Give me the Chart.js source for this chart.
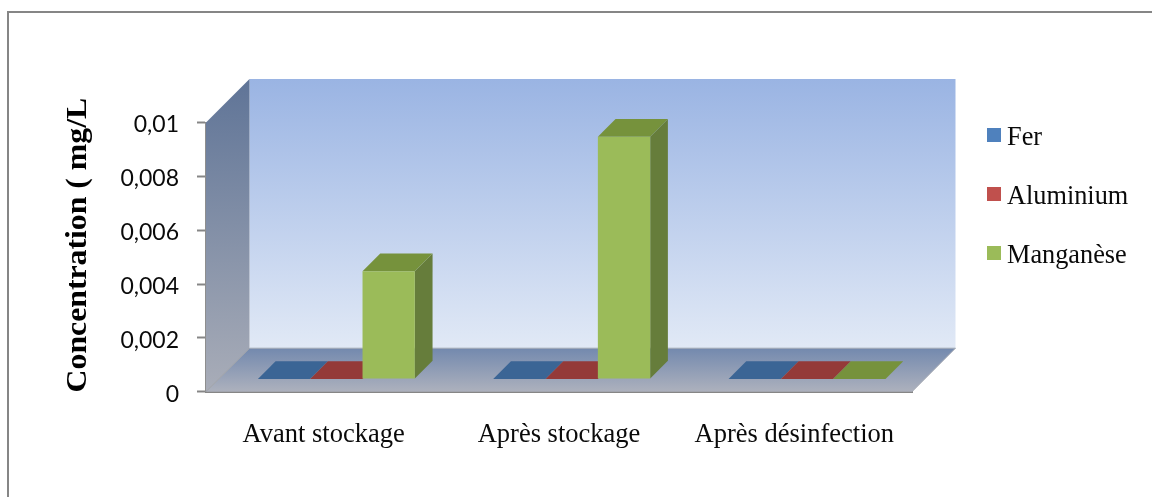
<!DOCTYPE html>
<html lang="fr">
<head>
  <meta charset="UTF-8">
  <title>Concentration</title>
  <script src="https://cdn.jsdelivr.net/npm/chart.js"></script>
  <style>
    html, body {margin:0;padding:0;background:#fff}
    #wrap {position:relative;width:1152px;height:497px;overflow:hidden}
    #cadre {position:absolute;left:7px;top:11px;width:1160px;height:520px;border:2px solid #868686;box-sizing:border-box}
    canvas {position:absolute;left:0;top:0}
    #legende {position:absolute;left:987px;top:0;font:26.3px "Liberation Serif",serif;color:#0a0a0a}
    #legende div {position:absolute;left:0;white-space:nowrap;height:30px;line-height:30px}
    #legende i {position:absolute;left:0;top:8px;width:14px;height:14px}
    #legende span {position:absolute;left:20px;top:2px}
  </style>
</head>
<body>
<div id="wrap">
  <div id="cadre"></div>
  <canvas id="barChart" width="1152" height="497"></canvas>
  <div id="legende"></div>
</div>
<script>
const categories = ['Avant stockage', 'Après stockage', 'Après désinfection'];
const fer = [0, 0, 0];
const aluminium = [0, 0, 0];
const manganese = [0.004, 0.009, 0];
const yTicks = [0, 0.002, 0.004, 0.006, 0.008, 0.01];
const yTitle = 'Concentration ( mg/L';

// Profondeur de la vue 3D, en pixels
const DEPTH = 43.5;
const BAR_OFFSET = 12.7;
const BAR_DEPTH = 17.7;

function poly(ctx, pts, fill) {
  ctx.beginPath();
  pts.forEach((p, i) => i ? ctx.lineTo(p[0], p[1]) : ctx.moveTo(p[0], p[1]));
  ctx.closePath();
  ctx.fillStyle = fill;
  ctx.fill();
}

function seam(ctx, x0, y0, x1, y1, color) {
  ctx.beginPath();
  ctx.moveTo(x0, y0);
  ctx.lineTo(x1, y1);
  ctx.strokeStyle = color;
  ctx.lineWidth = 1;
  ctx.stroke();
}

function vGrad(ctx, y0, y1, c0, c1) {
  const g = ctx.createLinearGradient(0, y0, 0, y1);
  g.addColorStop(0, c0);
  g.addColorStop(1, c1);
  return g;
}

// Parois, sol et faces des barres, puis décalage des barres dans la profondeur
const scene3d = {
  id: 'scene3d',
  beforeDatasetsDraw(chart) {
    const { ctx, chartArea: a } = chart;
    const d = DEPTH;
    ctx.save();
    // paroi du fond
    poly(ctx, [[a.left + d, a.top - d], [a.right + d, a.top - d], [a.right + d, a.bottom - d], [a.left + d, a.bottom - d]],
      vGrad(ctx, a.top - d, a.bottom - d, '#9ab4e3', '#e1e9f6'));
    // paroi gauche
    poly(ctx, [[a.left, a.top], [a.left + d, a.top - d], [a.left + d, a.bottom - d], [a.left, a.bottom]],
      vGrad(ctx, a.top - d, a.bottom, '#5f7497', '#a9adb8'));
    // sol
    poly(ctx, [[a.left, a.bottom], [a.left + d, a.bottom - d], [a.right + d, a.bottom - d], [a.right, a.bottom]],
      vGrad(ctx, a.bottom - d, a.bottom, '#7389ae', '#adb1bd'));
    seam(ctx, a.left, a.bottom, a.left + d, a.bottom - d, '#9a9da3');
    seam(ctx, a.left + d, a.bottom - d, a.right + d, a.bottom - d, '#a3aab6');
    seam(ctx, a.right, a.bottom, a.right + d, a.bottom - d, '#a9adb6');
    ctx.restore();

    ctx.save();
    ctx.translate(BAR_OFFSET, -BAR_OFFSET);
    const dd = BAR_DEPTH;
    chart.data.datasets.forEach((ds, i) => {
      chart.getDatasetMeta(i).data.forEach(b => {
        const l = b.x - b.width / 2, r = b.x + b.width / 2;
        poly(ctx, [[r, b.y], [r + dd, b.y - dd], [r + dd, b.base - dd], [r, b.base]], ds.sideColor);
        poly(ctx, [[l, b.y], [l + dd, b.y - dd], [r + dd, b.y - dd], [r, b.y]], ds.topColor);
      });
    });
  },
  afterDatasetsDraw(chart) {
    chart.ctx.restore();
    const { ctx, chartArea: a } = chart;
    ctx.save();
    ctx.translate(79, (a.top + a.bottom) / 2 - 12);
    ctx.rotate(-Math.PI / 2);
    ctx.scale(1.095, 1);
    ctx.font = 'bold 29px "Liberation Serif", serif';
    ctx.fillStyle = '#000';
    ctx.textAlign = 'center';
    ctx.textBaseline = 'middle';
    ctx.fillText(yTitle, 0, 0);
    ctx.restore();
  }
};

const chart = new Chart(document.getElementById('barChart').getContext('2d'), {
  type: 'bar',
  data: {
    labels: categories,
    datasets: [
      { label: 'Fer', data: fer, backgroundColor: '#4f81bd', sideColor: '#3a6091', topColor: '#3b6595' },
      { label: 'Aluminium', data: aluminium, backgroundColor: '#c0504d', sideColor: '#8c3a38', topColor: '#943a38' },
      { label: 'Manganèse', data: manganese, backgroundColor: '#9bbb59', sideColor: '#667d3b', topColor: '#76923c' }
    ]
  },
  plugins: [scene3d],
  options: {
    responsive: false,
    animation: false,
    layout: { padding: { left: 0, right: 240, top: 122.5, bottom: 0 } },
    categoryPercentage: 0.667,
    barPercentage: 1,
    plugins: { legend: { display: false }, tooltip: { enabled: false } },
    scales: {
      x: {
        grid: { display: false, drawTicks: false },
        border: { display: true, color: '#868686', width: 2 },
        ticks: { color: '#0a0a0a', padding: 27, font: { family: '"Liberation Serif", serif', size: 26.5 }, maxRotation: 0 },
        afterFit(s) { s.height = 497 - 391.7; }
      },
      y: {
        min: 0,
        max: 0.01,
        afterBuildTicks(s) { s.ticks = yTicks.map(v => ({ value: v })); },
        afterFit(s) { s.width = 206; },
        grid: { drawOnChartArea: false, drawTicks: true, tickLength: 9, tickColor: '#868686', tickWidth: 2 },
        border: { display: true, color: '#8e8e8e', width: 2 },
        ticks: {
          color: '#0a0a0a',
          padding: 18,
          font: { family: 'Lato, sans-serif', size: 23, lineHeight: '5px' },
          // ligne vide devant le texte : descend le libellé de 2,5 px
          callback: v => ['', String(v).replace('.', ',')]
        }
      }
    }
  }
});

// Légende à droite du graphique
const legende = document.getElementById('legende');
chart.options.plugins.legend.labels.generateLabels(chart).forEach((item, i) => {
  const row = document.createElement('div');
  row.style.top = (120 + i * 59) + 'px';
  row.innerHTML = `<i style="background:${item.fillStyle}"></i><span>${item.text}</span>`;
  legende.appendChild(row);
});
</script>
</body>
</html>
